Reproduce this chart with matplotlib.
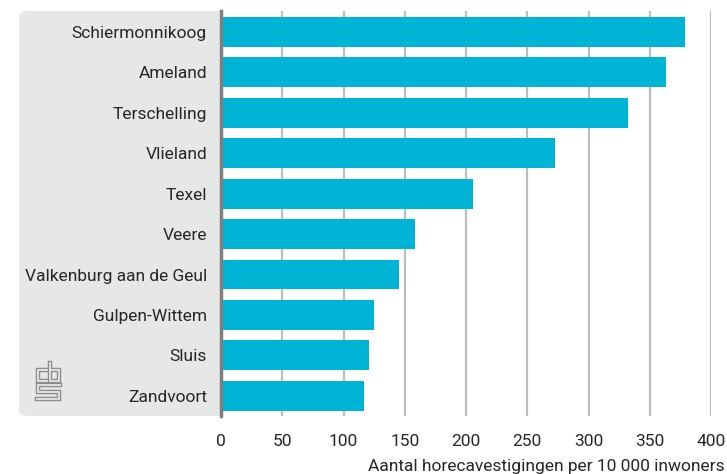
import matplotlib.pyplot as plt
from matplotlib.patches import FancyBboxPatch
from matplotlib.lines import Line2D

plt.rcParams['font.family'] = ['Roboto', 'DejaVu Sans']

# gemeenten en aantal horecavestigingen per 10 000 inwoners
gemeenten = ['Schiermonnikoog', 'Ameland', 'Terschelling', 'Vlieland', 'Texel',
             'Veere', 'Valkenburg aan de Geul', 'Gulpen-Wittem', 'Sluis', 'Zandvoort']
waarden = [379, 363, 332, 273, 206, 158, 145, 125, 121, 117]
xticks = [0, 50, 100, 150, 200, 250, 300, 350, 400]

W, H = 727, 474
fig = plt.figure(figsize=(W / 100, H / 100), dpi=100)

def fx(x):
    return x / W

def fy(y):
    return 1 - y / H

# axes placed in pixel terms
ax = fig.add_axes([fx(221), fy(416), fx(711) - fx(221), fy(11) - fy(416)])
ax.set_zorder(2)

# grey label panel with rounded left corners
panel = FancyBboxPatch((fx(19), fy(416)), fx(240) - fx(19), fy(11) - fy(416),
                       boxstyle='round,pad=0,rounding_size=0.012',
                       transform=fig.transFigure, facecolor='#e6e7e7',
                       edgecolor='none', zorder=1)
fig.patches.append(panel)

pos = list(range(len(gemeenten)))
ax.barh(pos, waarden, height=0.74, color='#00b4d6', zorder=3)
ax.set_ylim(9.5, -0.52)
ax.set_xlim(0, 400)
ax.set_xticks(xticks)
ax.set_yticks(pos)
ax.set_yticklabels(gemeenten)

ax.grid(axis='x', color='#bdbdbd', linewidth=1.6, zorder=0)
ax.set_axisbelow(True)
for s in ['top', 'right', 'bottom']:
    ax.spines[s].set_visible(False)
ax.spines['left'].set_color('#7f7f7f')
ax.spines['left'].set_linewidth(2.5)
ax.spines['left'].set_zorder(4)

ax.tick_params(axis='y', length=0, pad=10, labelsize=12.5, labelcolor='#262626')
ax.tick_params(axis='x', length=0, pad=13, labelsize=12.5, labelcolor='#262626')

fig.text(fx(725), fy(466), 'Aantal horecavestigingen per 10 000 inwoners',
         ha='right', va='center', fontsize=12.5, color='#262626')

# small cbs logo, drawn as outlined strokes
logo = [
    [(47, 370), (38, 370), (38, 381), (47, 381)],
    [(50, 363), (50, 381), (59, 381), (59, 370), (50, 370)],
    [(60, 385), (38, 385), (38, 392), (59, 392), (59, 399), (37, 399)],
]
for pts in logo:
    xs = [fx(p[0]) for p in pts]
    ys = [fy(p[1]) for p in pts]
    fig.lines.append(Line2D(xs, ys, transform=fig.transFigure, color='#8c8c8c',
                            linewidth=3.2, solid_joinstyle='miter', zorder=1.5))
    fig.lines.append(Line2D(xs, ys, transform=fig.transFigure, color='#e6e7e7',
                            linewidth=1.3, solid_joinstyle='miter', zorder=1.6))

fig.savefig('out.png', dpi=100)
